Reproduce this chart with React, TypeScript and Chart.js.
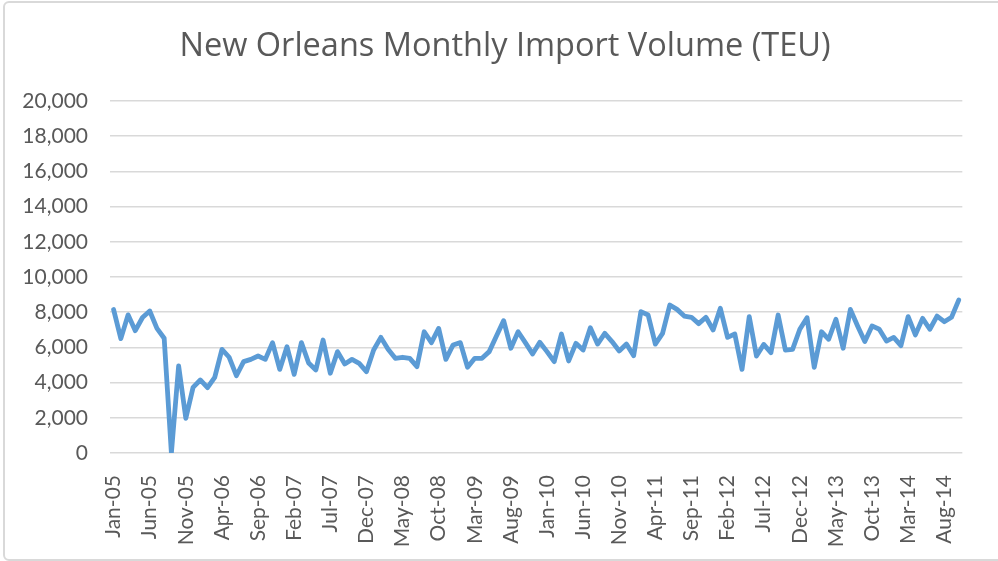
import React, { useEffect, useRef } from "react";
import { Chart, registerables } from "chart.js";

Chart.register(...registerables);

const MONTHS = ["Jan", "Feb", "Mar", "Apr", "May", "Jun", "Jul", "Aug", "Sep", "Oct", "Nov", "Dec"];
const YEARS = ["05", "06", "07", "08", "09", "10", "11", "12", "13", "14"];

const V2005 = [8150, 6500, 7850, 6950, 7700, 8070, 7080, 6520, 0, 4950, 1970, 3730];
const V2006 = [4150, 3710, 4300, 5890, 5440, 4390, 5190, 5320, 5510, 5320, 6270, 4750];
const V2007 = [6040, 4470, 6270, 5110, 4720, 6420, 4530, 5760, 5060, 5320, 5090, 4620];
const V2008 = [5850, 6570, 5890, 5380, 5440, 5380, 4910, 6890, 6270, 7080, 5320, 6140];
const V2009 = [6270, 4870, 5380, 5380, 5760, 6650, 7520, 5950, 6890, 6270, 5630, 6290];
const V2010 = [5760, 5190, 6760, 5230, 6230, 5850, 7120, 6190, 6800, 6330, 5800, 6190];
const V2011 = [5530, 8030, 7840, 6190, 6800, 8410, 8160, 7780, 7710, 7350, 7710, 6990];
const V2012 = [8220, 6570, 6760, 4750, 7750, 5510, 6170, 5700, 7840, 5850, 5890, 7030];
const V2013 = [7690, 4870, 6890, 6460, 7600, 5950, 8160, 7220, 6330, 7220, 7030, 6360];
const V2014 = [6570, 6100, 7750, 6710, 7650, 7030, 7780, 7460, 7710, 8690];

const VALUES = [
  ...V2005, ...V2006, ...V2007, ...V2008, ...V2009,
  ...V2010, ...V2011, ...V2012, ...V2013, ...V2014,
];
const CATEGORIES = YEARS.flatMap((y) => MONTHS.map((m) => `${m}-${y}`)).slice(0, VALUES.length);

const TITLE = "New Orleans Monthly Import Volume (TEU)";
const LABEL_EVERY = 5;

const titlePlugin = {
  id: "centeredTitle",
  afterDraw(chart: any) {
    const ctx = chart.ctx;
    ctx.save();
    ctx.fillStyle = "#595959";
    ctx.font = "normal 32.5px 'Open Sans'";
    ctx.textAlign = "center";
    ctx.textBaseline = "middle";
    ctx.fillText(TITLE, 505, 46.5);
    ctx.restore();
  },
};

export default function App() {
  const ref = useRef<HTMLCanvasElement | null>(null);

  useEffect(() => {
    document.body.style.margin = "0";
    document.body.style.overflow = "hidden";
    let chart: Chart | null = null;
    let cancelled = false;
    const make = () => {
      if (cancelled || !ref.current) return;
      chart = new Chart(ref.current, {
        type: "line",
        data: {
          labels: CATEGORIES,
          datasets: [
            {
              data: VALUES,
              borderColor: "#5b9bd5",
              backgroundColor: "#5b9bd5",
              borderWidth: 4.8,
              pointRadius: 0,
              tension: 0,
              borderJoinStyle: "round",
              borderCapStyle: "round",
            },
          ],
        },
        plugins: [titlePlugin],
        options: {
          responsive: false,
          animation: false,
          layout: { padding: { left: 0, right: 20, top: 101, bottom: 0 } },
          plugins: {
            legend: { display: false },
            tooltip: { enabled: false },
            title: { display: false },
          },
          scales: {
            x: {
              type: "category",
              offset: true,
              grid: { display: false },
              border: { display: false },
              ticks: {
                autoSkip: false,
                minRotation: 90,
                maxRotation: 90,
                padding: 14,
                color: "#595959",
                font: { family: "Lato", size: 21 },
                callback: function (_v: any, i: number) {
                  return i % LABEL_EVERY === 0 ? CATEGORIES[i] : "";
                },
              },
              afterFit: (s: any) => {
                s.height = 108;
              },
            },
            y: {
              min: 0,
              max: 20000,
              grid: { color: "#d9d9d9", lineWidth: 1.5, drawTicks: false },
              border: { display: false },
              ticks: {
                stepSize: 2000,
                padding: 22,
                color: "#595959",
                font: { family: "Lato", size: 21 },
              },
              afterFit: (s: any) => {
                s.width = 110;
              },
            },
          },
        },
      });
    };
    const fonts: any = (document as any).fonts;
    if (fonts && fonts.load) {
      Promise.all([fonts.load("21px Lato"), fonts.load("32px 'Open Sans'")]).then(make, make);
    } else {
      make();
    }
    return () => {
      cancelled = true;
      if (chart) chart.destroy();
    };
  }, []);

  return (
    <div style={{ position: "fixed", left: 0, top: 0, width: 998, height: 561, overflow: "hidden", background: "#fff" }}>
      <div
        style={{
          position: "absolute",
          left: 3,
          top: 1,
          width: 1000,
          height: 560,
          boxSizing: "border-box",
          border: "2px solid #d9d9d9",
          borderRadius: 6,
        }}
      />
      <canvas ref={ref} width={998} height={561} style={{ position: "absolute", left: 0, top: 0, width: 998, height: 561 }} />
    </div>
  );
}
